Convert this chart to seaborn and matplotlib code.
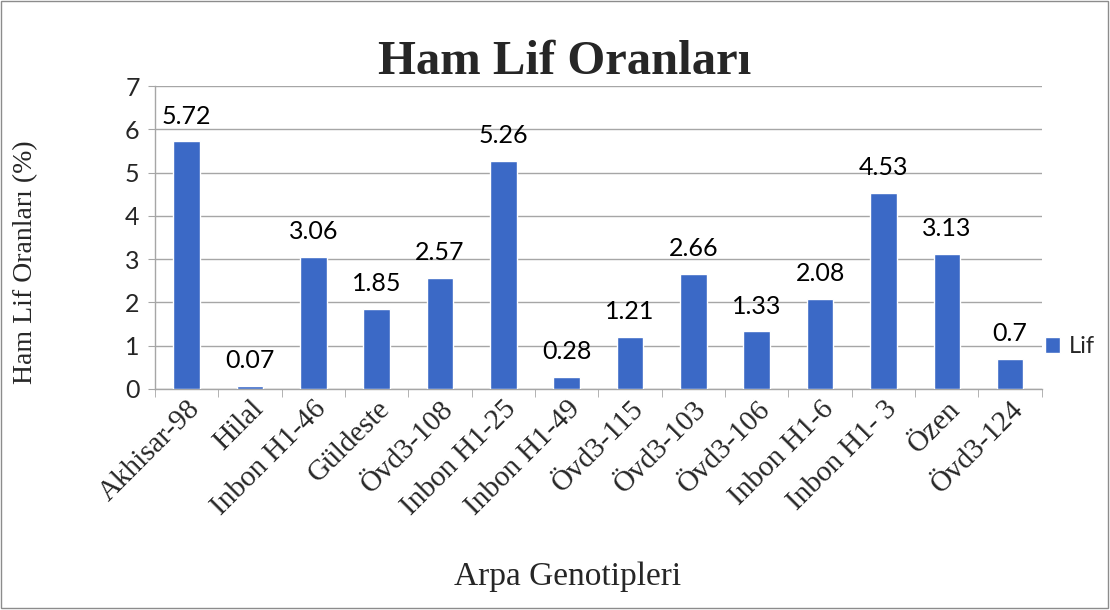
import matplotlib
matplotlib.use("Agg")
import matplotlib.pyplot as plt
import seaborn as sns
import numpy as np
from matplotlib.patches import Rectangle
from matplotlib.ticker import FixedLocator

genotypes = ["Akhisar-98", "Hilal", "Inbon H1-46", "Güldeste", "Övd3-108",
             "Inbon H1-25", "Inbon H1-49", "Övd3-115", "Övd3-103", "Övd3-106",
             "Inbon H1-6", "Inbon H1- 3", "Özen", "Övd3-124"]
lif = [5.72, 0.07, 3.06, 1.85, 2.57, 5.26, 0.28, 1.21, 2.66, 1.33,
       2.08, 4.53, 3.13, 0.7]
value_labels = ["5.72", "0.07", "3.06", "1.85", "2.57", "5.26", "0.28", "1.21",
                "2.66", "1.33", "2.08", "4.53", "3.13", "0.7"]

sns.set_style("white")
serif = "Liberation Serif"
sans = "Lato"
plt.rcParams["font.family"] = [sans, "DejaVu Sans"]

fig = plt.figure(figsize=(11.1, 6.1), dpi=100)
ax = fig.add_axes([0.1396, 0.3623, 0.799, 0.4967])

bar_color = "#3b69c6"
sns.barplot(x=genotypes, y=lif, color=bar_color, saturation=1, width=0.42,
            ax=ax, label="Lif", zorder=3)

ax.bar_label(ax.containers[0], labels=value_labels, padding=10,
             fontsize=18, family=sans, color="black")

ax.set_ylim(0, 7)
ax.set_xlim(-0.5, len(genotypes) - 0.5)
ax.set_yticks(range(0, 8))
ax.yaxis.grid(True, color="#a6a6a6", linewidth=1, zorder=0)
ax.set_axisbelow(True)

for s in ["top", "right"]:
    ax.spines[s].set_visible(False)
ax.spines["left"].set_color("#a6a6a6")
ax.spines["bottom"].set_color("#a6a6a6")
ax.spines["left"].set_linewidth(1)
ax.spines["bottom"].set_linewidth(1)

ax.tick_params(axis="y", labelsize=18, length=5, color="#a6a6a6", pad=6,
               left=True)
ax.tick_params(axis="x", which="major", length=0, pad=5)
ax.xaxis.set_minor_locator(FixedLocator(np.arange(-0.5, len(genotypes), 1)))
ax.tick_params(axis="x", which="minor", length=6, color="#a6a6a6",
               bottom=True)
plt.setp(ax.get_xticklabels(), rotation=45, ha="right",
         rotation_mode="anchor", fontsize=21, family=serif)

fig.text(0.509, 0.898, "Ham Lif Oranları", fontsize=35, fontweight="bold",
         family=serif, ha="center", va="center")
ax.set_ylabel("Ham Lif Oranları (%)", fontsize=20, family=serif)
ax.yaxis.set_label_coords(-0.132, 0.42)
fig.text(0.511, 0.055, "Arpa Genotipleri", fontsize=24, family=serif,
         ha="center", va="center")

ax.legend(loc="center left", bbox_to_anchor=(0.993, 0.14), frameon=False,
          fontsize=17, handlelength=0.65, handleheight=0.65, handletextpad=0.35,
          borderaxespad=0)

fig.patches.append(Rectangle((0.001, 0.004), 0.997, 0.994,
                             transform=fig.transFigure, fill=False,
                             edgecolor="#8c8c8c", linewidth=1))

fig.savefig("out.png", dpi=100)
